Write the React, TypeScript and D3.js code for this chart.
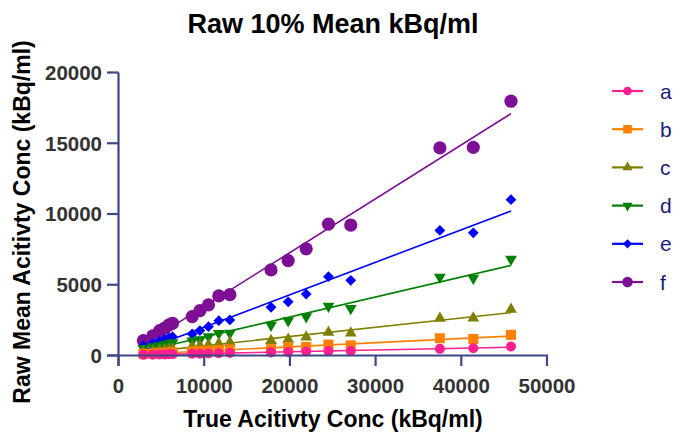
import React from "react";
import * as d3 from "d3";

const title = "Raw 10% Mean kBq/ml";
const xTitle = "True Acitivty Conc (kBq/ml)";
const yTitle = "Raw Mean Acitivty Conc (kBq/ml)";

const xValues = [2900, 4000, 4800, 5400, 5900, 6300, 8600, 9500, 10500, 11700, 13000, 17800, 19800, 21900, 24500, 27100, 37500, 41400, 45800];

const seriesNames = ["a", "b", "c", "d", "e", "f"];
const seriesA = [45, 60, 70, 75, 85, 90, 120, 130, 145, 160, 180, 220, 250, 280, 310, 320, 470, 510, 640];
const seriesB = [120, 150, 170, 190, 200, 220, 290, 320, 350, 390, 430, 450, 570, 610, 770, 720, 1220, 1170, 1460];
const seriesC = [250, 320, 380, 420, 450, 480, 640, 700, 760, 840, 930, 1060, 1150, 1300, 1640, 1580, 2630, 2640, 3270];
const seriesD = [510, 620, 700, 760, 860, 900, 1030, 1120, 1330, 1570, 1580, 2140, 2460, 2750, 3480, 3320, 5540, 5470, 6810];
const seriesE = [680, 860, 1000, 1150, 1250, 1330, 1520, 1760, 2040, 2460, 2510, 3410, 3790, 4340, 5570, 5310, 8840, 8670, 11010];
const seriesF = [1050, 1380, 1760, 1930, 2160, 2280, 2750, 3170, 3580, 4210, 4300, 6050, 6710, 7540, 9290, 9220, 14670, 14710, 17970];

const xTicks = [0, 10000, 20000, 30000, 40000, 50000];
const yTicks = [0, 5000, 10000, 15000, 20000];

const colors = ["#ff1f8e", "#ff8000", "#808000", "#008000", "#0000ff", "#7d0f95"];
const shapes = ["circle", "square", "triUp", "triDown", "diamond", "bigCircle"];

const allSeries = [seriesA, seriesB, seriesC, seriesD, seriesE, seriesF];

function fit(xs: number[], ys: number[]) {
  const mx = d3.mean(xs)!;
  const my = d3.mean(ys)!;
  let num = 0, den = 0;
  xs.forEach((x, i) => {
    num += (x - mx) * (ys[i] - my);
    den += (x - mx) * (x - mx);
  });
  const slope = num / den;
  return { slope, intercept: my - slope * mx };
}

function Marker({ shape, cx, cy, color, scale }: { shape: string; cx: number; cy: number; color: string; scale: number }) {
  if (shape === "circle") return <circle cx={cx} cy={cy} r={5 * scale} fill={color} />;
  if (shape === "bigCircle") return <circle cx={cx} cy={cy} r={6.6 * scale} fill={color} />;
  let path = "";
  let rot = 0;
  if (shape === "square") path = d3.symbol().type(d3.symbolSquare).size(100 * scale * scale)()!;
  if (shape === "triUp") path = d3.symbol().type(d3.symbolTriangle).size(60 * scale * scale)()!;
  if (shape === "triDown") { path = d3.symbol().type(d3.symbolTriangle).size(60 * scale * scale)()!; rot = 180; }
  if (shape === "diamond") { path = d3.symbol().type(d3.symbolSquare).size(58 * scale * scale)()!; rot = 45; }
  return <path d={path} transform={`translate(${cx},${cy}) rotate(${rot})`} fill={color} />;
}

export default function App() {
  const W = 692, H = 435;
  const x = d3.scaleLinear().domain([0, 50000]).range([118.5, 547]);
  const y = d3.scaleLinear().domain([0, 20000]).range([355.5, 72.5]);
  const axisColor = "#3f4685";
  const font = "Liberation Sans, Arial, sans-serif";
  const legendY = d3.scaleLinear().domain([0, 5]).range([91, 282]);

  return (
    <svg width={W} height={H} style={{ position: "absolute", left: 0, top: 0, background: "#fff" }} fontFamily={font}>
      <text x={333} y={33} textAnchor="middle" fontSize={27} fontWeight="bold" fill="#000">{title}</text>

      {/* fit lines */}
      {allSeries.map((ys, i) => {
        const f = fit(xValues, ys);
        const [x0, x1] = d3.extent(xValues) as [number, number];
        return (
          <line key={"l" + i} x1={x(x0)} y1={y(f.intercept + f.slope * x0)} x2={x(x1)} y2={y(f.intercept + f.slope * x1)}
            stroke={colors[i]} strokeWidth={1.6} />
        );
      })}

      {/* markers */}
      {allSeries.map((_, k) => {
        const i = allSeries.length - 1 - k;
        return (
          <g key={"m" + i}>
            {allSeries[i].map((v, j) => (
              <Marker key={j} shape={shapes[i]} cx={x(xValues[j])} cy={y(v)} color={colors[i]} scale={1} />
            ))}
          </g>
        );
      })}

      {/* axes */}
      <line x1={x(0)} y1={y(20000)} x2={x(0)} y2={366} stroke={axisColor} strokeWidth={2.2} />
      <line x1={107} y1={y(0)} x2={x(50000) + 1} y2={y(0)} stroke={axisColor} strokeWidth={2.2} />
      {xTicks.map((t) => (
        <g key={"xt" + t}>
          <line x1={x(t)} x2={x(t)} y1={y(0)} y2={366} stroke={axisColor} strokeWidth={2.2} />
          <text x={x(t)} y={393} textAnchor="middle" fontSize={20.5} fontWeight="bold" fill="#333">{t}</text>
        </g>
      ))}
      {yTicks.map((t) => (
        <g key={"yt" + t}>
          <line x1={107} x2={x(0)} y1={y(t)} y2={y(t)} stroke={axisColor} strokeWidth={2.2} />
          <text x={102} y={y(t) + 7.4} textAnchor="end" fontSize={20.5} fontWeight="bold" fill="#333">{t}</text>
        </g>
      ))}
      <text x={333} y={427} textAnchor="middle" fontSize={23} fontWeight="bold" fill="#000">{xTitle}</text>
      <text transform={`translate(30,222) rotate(-90)`} textAnchor="middle" fontSize={23} fontWeight="bold" fill="#000">{yTitle}</text>

      {/* legend */}
      {seriesNames.map((n, i) => (
        <g key={"lg" + i}>
          <line x1={612} x2={643} y1={legendY(i)} y2={legendY(i)} stroke={colors[i]} strokeWidth={2.2} />
          <Marker shape={shapes[i]} cx={627.5} cy={legendY(i)} color={colors[i]} scale={i === 5 ? 0.8 : 0.85} />
          <text x={660} y={legendY(i) + 7.5} fontSize={21} fill="#1c1c78">{n}</text>
        </g>
      ))}
    </svg>
  );
}
